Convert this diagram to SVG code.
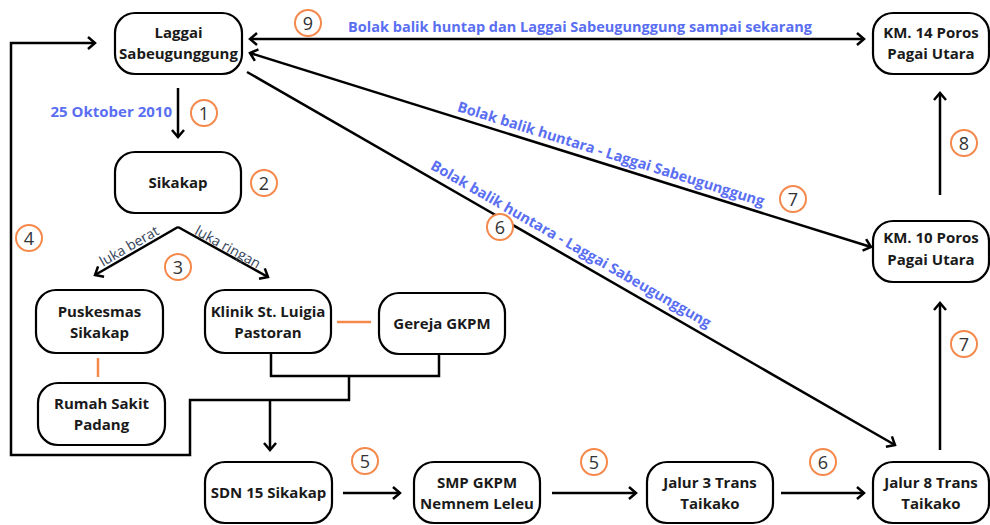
<svg xmlns="http://www.w3.org/2000/svg" width="990" height="525" viewBox="0 0 990 525">
<defs>
<style>
.node rect{fill:#fff;stroke:#000;stroke-width:2.2}
.node text{font-family:"Open Sans","Liberation Sans",sans-serif;font-weight:700;font-size:15px;fill:#1a1a1a;text-anchor:middle}
.conn{fill:none;stroke:#000;stroke-width:2.5}
.orange{fill:none;stroke:#f5894b;stroke-width:2.5}
.lbl{font-family:"Open Sans","Liberation Sans",sans-serif;font-weight:700;font-size:14.5px;fill:#5a6ef2;text-anchor:middle}
.sub{font-family:"Open Sans","Liberation Sans",sans-serif;font-size:14px;fill:#36455a;text-anchor:middle}
.num circle{fill:#fff;stroke:#f5894b;stroke-width:2}
.num text{font-family:"Open Sans","Liberation Sans",sans-serif;font-size:18px;fill:#333;text-anchor:middle}
</style>
<marker id="ah" viewBox="-10 -8 12 16" refX="0" refY="0" markerWidth="12" markerHeight="16" markerUnits="userSpaceOnUse" orient="auto-start-reverse">
<path d="M-7,-6 L0,0 L-7,6" fill="none" stroke="#000" stroke-width="2.5"/>
</marker>
</defs>
<rect width="990" height="525" fill="#fff"/>

<g id="connectors">
<line class="conn" x1="250" y1="39" x2="864" y2="39" marker-start="url(#ah)" marker-end="url(#ah)"/>
<line class="conn" x1="250" y1="53" x2="871" y2="247" marker-start="url(#ah)" marker-end="url(#ah)"/>
<line class="conn" x1="247" y1="72" x2="895" y2="445" marker-end="url(#ah)"/>
<line class="conn" x1="178" y1="88" x2="178" y2="137" marker-end="url(#ah)"/>
<line class="conn" x1="178" y1="227" x2="95" y2="275" marker-end="url(#ah)"/>
<line class="conn" x1="178" y1="227" x2="268" y2="277" marker-end="url(#ah)"/>
<path class="conn" d="M271,353 V376 H439 V354"/>
<path class="conn" d="M349,376 V400 H190 V455 H11 V43 H95" marker-end="url(#ah)"/>
<line class="conn" x1="270" y1="400" x2="270" y2="450" marker-end="url(#ah)"/>
<line class="conn" x1="343" y1="493" x2="400" y2="493" marker-end="url(#ah)"/>
<line class="conn" x1="552" y1="493" x2="636" y2="493" marker-end="url(#ah)"/>
<line class="conn" x1="781" y1="493" x2="864" y2="493" marker-end="url(#ah)"/>
<line class="conn" x1="940" y1="450" x2="940" y2="303" marker-end="url(#ah)"/>
<line class="conn" x1="940" y1="195" x2="940" y2="93" marker-end="url(#ah)"/>
<line class="orange" x1="98" y1="358" x2="98" y2="377"/>
<line class="orange" x1="337" y1="322" x2="371" y2="322"/>
</g>

<g id="labels">
<text class="lbl" x="580" y="32">Bolak balik huntap dan Laggai Sabeugunggung sampai sekarang</text>
<text class="lbl" x="611" y="159" transform="rotate(17.35 611 154)">Bolak balik huntara - Laggai Sabeugunggung</text>
<text class="lbl" x="571" y="249" transform="rotate(29.9 571 244)">Bolak balik huntara - Laggai Sabeugunggung</text>
<text class="lbl" x="172" y="117" style="text-anchor:end;font-size:15px">25 Oktober 2010</text>
<text class="sub" x="129" y="251" transform="rotate(-30 129 246)">luka berat</text>
<text class="sub" x="228" y="252" transform="rotate(29 228 247)">luka ringan</text>
</g>

<g id="n-laggai" class="node"><rect x="115" y="13" width="127" height="61" rx="20"/><text x="178.5" y="37.5">Laggai</text><text x="178.5" y="58.5">Sabeugunggung</text></g>
<g id="n-sikakap" class="node"><rect x="115" y="152" width="126" height="61" rx="20"/><text x="178" y="188">Sikakap</text></g>
<g id="n-km14" class="node"><rect x="873" y="13" width="116" height="61" rx="20"/><text x="931" y="38">KM. 14 Poros</text><text x="931" y="59">Pagai Utara</text></g>
<g id="n-km10" class="node"><rect x="873" y="221" width="116" height="61" rx="20"/><text x="931" y="243">KM. 10 Poros</text><text x="931" y="265">Pagai Utara</text></g>
<g id="n-puskesmas" class="node"><rect x="36" y="290" width="127" height="63" rx="20"/><text x="99.5" y="317">Puskesmas</text><text x="99.5" y="338">Sikakap</text></g>
<g id="n-klinik" class="node"><rect x="205" y="290" width="126" height="63" rx="20"/><text x="268" y="317">Klinik St. Luigia</text><text x="268" y="338">Pastoran</text></g>
<g id="n-gereja" class="node"><rect x="379" y="293" width="126" height="61" rx="20"/><text x="442" y="329">Gereja GKPM</text></g>
<g id="n-rumahsakit" class="node"><rect x="38" y="383" width="127" height="62" rx="20"/><text x="101.5" y="409">Rumah Sakit</text><text x="101.5" y="430">Padang</text></g>
<g id="n-sdn" class="node"><rect x="205" y="462" width="127" height="61" rx="20"/><text x="268.5" y="498">SDN 15 Sikakap</text></g>
<g id="n-smp" class="node"><rect x="414" y="462" width="126" height="61" rx="20"/><text x="477" y="488">SMP GKPM</text><text x="477" y="509">Nemnem Leleu</text></g>
<g id="n-jalur3" class="node"><rect x="647" y="462" width="126" height="61" rx="20"/><text x="710" y="488">Jalur 3 Trans</text><text x="710" y="509">Taikako</text></g>
<g id="n-jalur8" class="node"><rect x="873" y="462" width="116" height="61" rx="20"/><text x="931" y="488">Jalur 8 Trans</text><text x="931" y="509">Taikako</text></g>

<g id="steps" class="num">
<g><circle cx="204" cy="113" r="13"/><text x="204" y="119.5">1</text></g>
<g><circle cx="264" cy="183" r="13"/><text x="264" y="189.5">2</text></g>
<g><circle cx="178" cy="267" r="13"/><text x="178" y="273.5">3</text></g>
<g><circle cx="29" cy="238" r="13"/><text x="29" y="244.5">4</text></g>
<g><circle cx="365" cy="461" r="13"/><text x="365" y="467.5">5</text></g>
<g><circle cx="594" cy="462" r="13"/><text x="594" y="468.5">5</text></g>
<g><circle cx="823" cy="462" r="13"/><text x="823" y="468.5">6</text></g>
<g><circle cx="500" cy="227" r="13"/><text x="500" y="233.5">6</text></g>
<g><circle cx="793" cy="199" r="13"/><text x="793" y="205.5">7</text></g>
<g><circle cx="964" cy="344" r="13"/><text x="964" y="350.5">7</text></g>
<g><circle cx="964" cy="143" r="13"/><text x="964" y="149.5">8</text></g>
<g><circle cx="308" cy="23" r="13"/><text x="308" y="29.5">9</text></g>
</g>
</svg>
